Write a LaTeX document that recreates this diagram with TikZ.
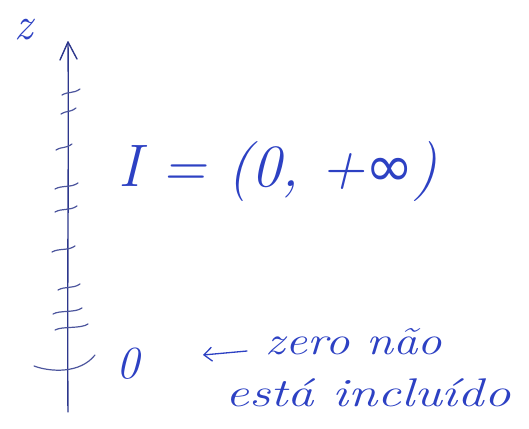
\documentclass[tikz,border=0pt]{standalone}
\usepackage{fontspec}
\newfontfamily\symfont{DejaVu Sans}
\usetikzlibrary{arrows.meta}
\definecolor{axisblue}{RGB}{45,55,140}
\definecolor{inkblue}{RGB}{45,65,195}
\tikzset{
  axisline/.style={draw=axisblue, line width=1.4pt, line cap=round, line join=round},
  tickmark/.style={draw=axisblue!85, line width=1.2pt, line cap=round},
  hand/.style={text=inkblue, inner sep=0pt, font=\fontsize{40}{44}\selectfont\itshape},
  inkline/.style={draw=inkblue, line width=1.3pt, line cap=round, line join=round}
}
\begin{document}
\begin{tikzpicture}[x=1pt,y=-1pt]
\useasboundingbox (0,0) rectangle (529,428);
% axis
\coordinate (bot) at (68,412);
\coordinate (top) at (68,42);
\draw[axisline] (bot) .. controls (67,300) and (69,150) .. (top);
\draw[axisline] (60,60) -- (top) -- (77,59);
% ticks
\foreach \y/\a/\b in {93/62/80, 112/61/76, 148/56/72, 187/55/78, 210/55/77, 250/52/75, 288/58/80, 312/53/82, 328/55/88}{
  \draw[tickmark] (\a,\y+2) .. controls (\a+7,\y-2) and (\b-7,\y+1) .. (\b,\y-4);
}
% origin mark
\draw[tickmark] (34,366) .. controls (50,372) and (80,374) .. (95,355);
% labels
\node[hand, font=\fontsize{46}{50}\selectfont\itshape] (zlab) at (24,30) {z};
\node[hand, font=\fontsize{60}{64}\selectfont\itshape, xscale=1.0] (interval) at (278,172) {I = (0, +{\upshape\symfont\fontsize{58}{60}\selectfont ∞})};
\node[hand, font=\fontsize{46}{50}\selectfont\itshape] (zero) at (128,364) {0};
\coordinate (arrS) at (247,351);
\coordinate (arrE) at (203,355);
\draw[inkline, -{Straight Barb[length=8pt,width=14pt]}] (arrS) -- (arrE);
\node[hand, xscale=1.22] (note1) at (354,342) {zero não};
\node[hand, xscale=1.32] (note2) at (368,393) {está incluído};
\end{tikzpicture}
\end{document}
